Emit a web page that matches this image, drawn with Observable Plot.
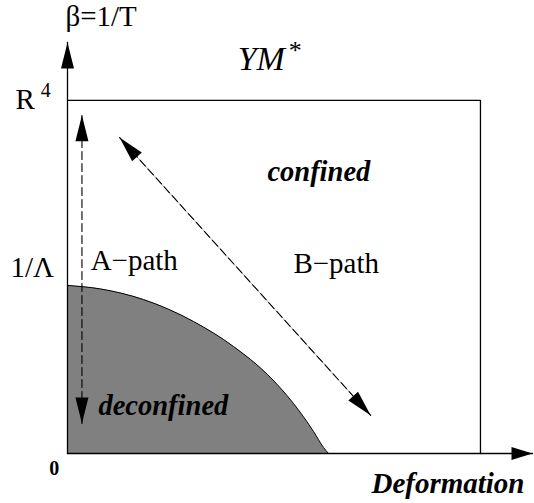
<!DOCTYPE html>
<html><head><meta charset="utf-8">
<script src="https://cdn.jsdelivr.net/npm/d3@7"></script>
<script src="https://cdn.jsdelivr.net/npm/@observablehq/plot@0.6"></script>
<style>html,body{margin:0;padding:0;background:#fff} svg{display:block}</style>
</head><body><div id="chart"></div>
<script>
// Phase boundary between deconfined and confined (box units: box = [0,1] x [0,1])
const boundaryX = [0, 0.080, 0.184, 0.305, 0.402, 0.484, 0.547, 0.596, 0.620, 0.632];
const boundaryY = [0.476, 0.466, 0.436, 0.374, 0.303, 0.224, 0.142, 0.062, 0.017, 0];
// YM* box (top and right edges)
const boxX = [0, 1, 1];
const boxY = [1, 1, 0];
// axis extents
const xAxisEnd = 1.126;
const yAxisEnd = 1.164;
// A-path (vertical) and B-path (diagonal)
const pathAX = [0.035, 0.035];
const pathAY = [0.085, 0.958];
const pathBX = [0.734, 0.126];
const pathBY = [0.108, 0.895];
// labels
const plainLabels = ["β=1/T", "R", "1/Λ", "A−path", "B−path"];
const plainLabelX = [-0.005, -0.126, -0.138, 0.056, 0.547];
const plainLabelY = [1.21, 0.977, 0.499, 0.521, 0.510];
const supLabels = ["4"];
const supLabelX = [-0.065];
const supLabelY = [1.010];
const titleLabel = ["YM"], titleX = [0.412], titleY = [1.085];
const starLabel = ["*"], starX = [0.536], starY = [1.118];
const phaseLabels = ["confined", "deconfined"];
const phaseX = [0.484, 0.075];
const phaseY = [0.773, 0.108];
const axisLabels = ["0", "Deformation"];
const axisLabelX = [-0.044, 0.736];
const axisLabelY = [-0.062, -0.113];
const axisLabelSize = [20, 29];

const W = 534, H = 503;
const mL = 67, mR = 2, mT = 42, mB = 50;
const xDomain = [0, xAxisEnd], yDomain = [0, yAxisEnd];
const sx = Plot.scale({x: {domain: xDomain, range: [mL, W - mR]}});
const sy = Plot.scale({y: {domain: yDomain, range: [H - mB, mT]}});

const zip = (xs, ys, extra = {}) => xs.map((x, i) => ({x, y: ys[i], ...Object.fromEntries(Object.entries(extra).map(([k, v]) => [k, v[i]]))}));
const boundary = zip(boundaryX, boundaryY);
const box = zip(boxX, boxY);
const xAxisLine = [{x: 0, y: 0}, {x: xAxisEnd, y: 0}];
const yAxisLine = [{x: 0, y: 0}, {x: 0, y: yAxisEnd}];
const pathA = zip(pathAX, pathAY);
const pathB = zip(pathBX, pathBY);

function angle(from, to) {
  const dx = sx.apply(to.x) - sx.apply(from.x);
  const dy = sy.apply(to.y) - sy.apply(from.y);
  return Math.atan2(dx, -dy) * 180 / Math.PI;
}
function head(from, to) { return {x: to.x, y: to.y, rotate: angle(from, to)}; }
function arrowHead(L, w) {
  return {draw(ctx) { ctx.moveTo(0, 0); ctx.lineTo(w, L); ctx.lineTo(-w, L); ctx.closePath(); }};
}
const pathHeads = [
  head(pathA[0], pathA[1]), head(pathA[1], pathA[0]),
  head(pathB[0], pathB[1]), head(pathB[1], pathB[0])
];
const yHead = [head(yAxisLine[0], yAxisLine[1])];
const xHead = [head(xAxisLine[0], xAxisLine[1])];

const serif = "Liberation Serif";

const plot = Plot.plot({
  width: W, height: H,
  marginLeft: mL, marginRight: mR, marginTop: mT, marginBottom: mB,
  x: {domain: xDomain, axis: null},
  y: {domain: yDomain, axis: null},
  style: {background: "#fff", overflow: "visible", fontFamily: serif},
  marks: [
    Plot.areaY(boundary, {x: "x", y: "y", fill: "#808080", curve: "monotone-x"}),
    Plot.line(boundary, {x: "x", y: "y", stroke: "#000", strokeWidth: 1, curve: "monotone-x"}),
    Plot.line(box, {x: "x", y: "y", stroke: "#000", strokeWidth: 1.3}),
    Plot.line(xAxisLine, {x: "x", y: "y", stroke: "#000", strokeWidth: 1.3}),
    Plot.line(yAxisLine, {x: "x", y: "y", stroke: "#000", strokeWidth: 1.3}),
    Plot.line(pathA, {x: "x", y: "y", stroke: "#000", strokeWidth: 1.1, strokeDasharray: "8,4"}),
    Plot.line(pathB, {x: "x", y: "y", stroke: "#999", strokeWidth: 0.8}),
    Plot.line(pathB, {x: "x", y: "y", stroke: "#000", strokeWidth: 1.1, strokeDasharray: "8,4"}),
    Plot.dot(pathHeads, {x: "x", y: "y", rotate: "rotate", symbol: arrowHead(26, 6.5), fill: "#000", stroke: "none"}),
    Plot.dot(yHead, {x: "x", y: "y", rotate: "rotate", symbol: arrowHead(26, 6.5), fill: "#000", stroke: "none"}),
    Plot.dot(xHead, {x: "x", y: "y", rotate: "rotate", symbol: arrowHead(21, 6.5), fill: "#000", stroke: "none"}),
    Plot.text(zip(plainLabelX, plainLabelY, {t: plainLabels}), {x: "x", y: "y", text: "t", textAnchor: "start", lineAnchor: "bottom", fontFamily: serif, fontSize: 29, fill: "#000"}),
    Plot.text(zip(supLabelX, supLabelY, {t: supLabels}), {x: "x", y: "y", text: "t", textAnchor: "start", lineAnchor: "bottom", fontFamily: serif, fontSize: 20, fill: "#000"}),
    Plot.text(zip(titleX, titleY, {t: titleLabel}), {x: "x", y: "y", text: "t", textAnchor: "start", lineAnchor: "bottom", fontFamily: serif, fontStyle: "italic", fontSize: 34, fill: "#000"}),
    Plot.text(zip(starX, starY, {t: starLabel}), {x: "x", y: "y", text: "t", textAnchor: "start", lineAnchor: "bottom", fontFamily: serif, fontSize: 26, fill: "#000"}),
    Plot.text(zip(phaseX, phaseY, {t: phaseLabels}), {x: "x", y: "y", text: "t", textAnchor: "start", lineAnchor: "bottom", fontFamily: serif, fontStyle: "italic", fontWeight: "bold", fontSize: 28.5, fill: "#000"}),
    Plot.text(zip([axisLabelX[0]], [axisLabelY[0]], {t: [axisLabels[0]]}), {x: "x", y: "y", text: "t", textAnchor: "start", lineAnchor: "bottom", fontFamily: serif, fontWeight: "bold", fontSize: axisLabelSize[0], fill: "#000"}),
    Plot.text(zip([axisLabelX[1]], [axisLabelY[1]], {t: [axisLabels[1]]}), {x: "x", y: "y", text: "t", textAnchor: "start", lineAnchor: "bottom", fontFamily: serif, fontStyle: "italic", fontWeight: "bold", fontSize: axisLabelSize[1], fill: "#000"})
  ]
});
document.getElementById("chart").appendChild(plot);
</script>
</body></html>
